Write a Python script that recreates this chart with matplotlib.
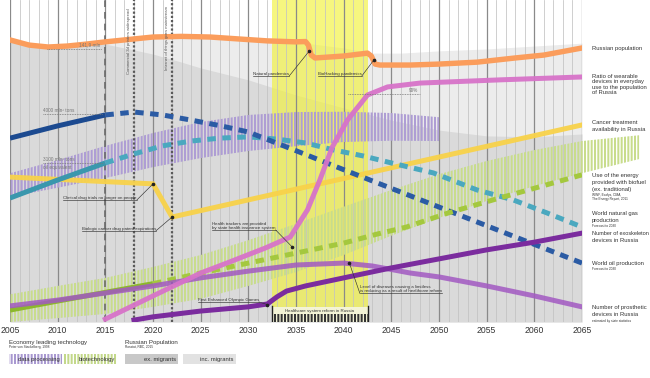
import matplotlib.pyplot as plt
from matplotlib.patches import Rectangle

plt.rcParams['font.family'] = ['Liberation Sans', 'DejaVu Sans']
plt.rcParams['hatch.linewidth'] = 1.45

# ---------- Data (index: 0 = bottom of chart, 100 = top) ----------

TICK_YEARS = list(range(2005, 2070, 5))

POP_YEARS = [2005, 2007, 2009, 2011, 2013, 2015, 2018, 2020, 2023, 2026, 2029, 2032, 2035,
             2036.0, 2036.3, 2036.6, 2037, 2040, 2042.5, 2042.9, 2043.3, 2043.8, 2047,
             2050, 2054, 2058, 2061, 2065]
POP_VALUES = [87.6, 86.0, 85.4, 85.7, 86.3, 87.0, 87.9, 88.5, 88.7, 88.5, 87.9, 87.3, 87.0,
              87.1, 86.0, 82.9, 82.0, 82.6, 83.5, 82.6, 80.1, 79.8, 79.8,
              80.1, 80.7, 82.0, 82.9, 85.1]

INC_YEARS = [2005, 2007, 2009, 2011, 2013, 2015, 2018, 2020, 2023, 2026, 2029, 2032, 2035,
             2040, 2043, 2046, 2050, 2055, 2060, 2065]
INC_VALUES = [87.6, 86.0, 85.4, 85.7, 86.3, 87.0, 87.9, 88.5, 88.7, 88.5, 87.9, 87.3, 87.0,
              85.1, 83.5, 83.5, 84.2, 84.8, 85.7, 86.6]

EX_YEARS = [2005, 2010, 2013, 2015, 2018, 2020, 2023, 2025, 2030, 2035, 2040, 2045, 2050,
            2055, 2060, 2065]
EX_VALUES = [87.3, 85.7, 86.0, 86.3, 84.5, 83.2, 80.7, 78.9, 75.2, 70.5, 66.5, 62.7, 59.6,
             57.8, 57.5, 58.4]

WEAR_YEARS = [2015, 2020, 2025, 2028, 2031.8, 2034.4, 2036.2, 2037.5, 2038.8, 2040.4,
              2042.5, 2044.6, 2048, 2056.4, 2065]
WEAR_VALUES = [0.9, 8.1, 15.2, 18.6, 23.0, 26.4, 34.8, 44.1, 54.3, 62.7,
               70.5, 73.0, 74.2, 75.2, 76.1]

OIL_YEARS = [2005, 2010, 2015, 2018, 2021, 2024, 2027, 2030, 2035, 2040, 2045, 2050, 2055,
             2060, 2065]
OIL_VALUES = [57.1, 60.9, 64.3, 65.2, 64.3, 62.7, 61.0, 59.0, 53.2, 47.3, 41.5, 35.7, 29.9,
              24.1, 18.3]

GAS_YEARS = [2005, 2010, 2015, 2018, 2021, 2024, 2027, 2030, 2033, 2036, 2039, 2042, 2045,
             2049.4, 2054, 2057.8, 2061.3, 2065]
GAS_VALUES = [38.5, 44.1, 49.4, 52.2, 54.7, 56.2, 57.1, 57.5, 56.8, 55.6, 53.4, 51.6, 49.4,
              46.3, 41.0, 37.9, 33.9, 29.5]

CANCER_YEARS = [2005, 2020, 2022, 2065]
CANCER_VALUES = [45.0, 42.9, 32.6, 61.2]

BIOFUEL_YEARS = [2005, 2010, 2015, 2020, 2025, 2030, 2035, 2040, 2043.5, 2046.6, 2051,
                 2056, 2065]
BIOFUEL_VALUES = [3.7, 6.5, 9.2, 11.9, 15.2, 18.3, 21.4, 24.5, 27.3, 29.5, 33.9,
                  38.2, 45.7]

EXO_YEARS = [2018, 2020, 2025, 2030, 2032, 2033, 2034, 2036, 2040, 2045, 2050, 2055, 2060, 2065]
EXO_VALUES = [0.6, 1.6, 3.4, 4.7, 5.6, 7.8, 9.6, 11.2, 13.7, 16.8, 19.6, 22.4, 24.8, 27.6]

PROS_YEARS = [2005, 2010, 2015, 2020, 2025, 2030, 2035, 2040, 2043, 2047, 2050, 2055, 2060, 2065]
PROS_VALUES = [5.0, 6.8, 9.0, 11.2, 13.7, 15.8, 17.7, 18.3, 17.4, 15.2, 14.0, 11.2, 8.1, 4.7]

# economy leading technology waves (centre, half width)
DATA_YEARS = [2005, 2010, 2015, 2020, 2025, 2030, 2035, 2040, 2045, 2050]
DATA_CENTER = [42.5, 46.0, 49.7, 53.4, 56.5, 58.7, 59.9, 60.6, 60.6, 59.9]
DATA_HALF = [3.7, 4.3, 5.0, 5.3, 5.6, 5.6, 5.3, 4.7, 4.3, 3.7]

BIO_YEARS = [2005, 2010, 2015, 2020, 2025, 2030, 2035, 2040, 2045, 2050, 2055, 2060, 2065, 2071]
BIO_CENTER = [4.3, 6.2, 8.1, 10.9, 14.0, 18.3, 23.0, 28.3, 33.9, 39.1, 43.8, 47.8, 51.2, 54.3]
BIO_HALF = [4.3, 5.0, 5.6, 6.2, 6.8, 7.1, 7.5, 7.5, 7.1, 6.8, 6.2, 5.6, 5.0, 3.7]

REFORM_START, REFORM_END = 2032.5, 2042.5

# ---------- Figure ----------

W, H = 650, 378
fig = plt.figure(figsize=(W / 100, H / 100), dpi=100)
ax = fig.add_axes([10 / W, 56 / H, 572 / W, 322 / H])
ax.set_xlim(2005, 2065)
ax.set_ylim(0, 100)
for s in ax.spines.values():
    s.set_visible(False)
ax.set_yticks([])
ax.set_xticks(TICK_YEARS)
ax.tick_params(axis='x', length=0, pad=3, labelsize=6.2, labelcolor='#333333')

# population areas
ax.fill_between(INC_YEARS, 0, INC_VALUES, color='#ececec', lw=0, zorder=0.3)
ax.fill_between(EX_YEARS, 0, EX_VALUES, color='#dadada', lw=0, zorder=0.4)

# healthcare reform period
ax.axvspan(REFORM_START, REFORM_END, color='#f2f23a', alpha=0.65, lw=0, zorder=0.6)

# year grid
for yr in range(2005, 2066):
    if yr % 5 == 0:
        ax.axvline(yr, color='#8a8a8a', lw=0.9, zorder=1)
    else:
        ax.axvline(yr, color='#c2c2c2', lw=0.55, zorder=1)

# technology waves
lo = [c - h for c, h in zip(DATA_CENTER, DATA_HALF)]
hi = [c + h for c, h in zip(DATA_CENTER, DATA_HALF)]
ax.fill_between(DATA_YEARS, lo, hi, facecolor='none', edgecolor='#ae9dd4',
                hatch='|||||', lw=0, zorder=2)
lo = [max(c - h, 0) for c, h in zip(BIO_CENTER, BIO_HALF)]
hi = [c + h for c, h in zip(BIO_CENTER, BIO_HALF)]
band = ax.fill_between(BIO_YEARS, lo, hi, facecolor='none', edgecolor='#c8dc8c',
                       hatch='|||||', lw=0, zorder=2)
band.set_clip_on(False)

# event lines
ax.axvline(2015, color='#6a6a6a', lw=1.2, dashes=(4, 3), zorder=2.5)
ax.axvline(2018, color='#5a5a5a', lw=1.6, ls=(0, (1, 0.9)), zorder=2.5)
ax.axvline(2022, color='#5a5a5a', lw=1.6, ls=(0, (1, 0.9)), zorder=2.5)
ax.text(2017.45, 97.5, "Commercial 3d printers widespread", rotation=90, ha='center',
        va='top', fontsize=3.1, color='#555555', zorder=5)
ax.text(2021.45, 98.2, "Internet of things goes mainstream", rotation=90, ha='center',
        va='top', fontsize=3.1, color='#555555', zorder=5)

LW = 3.6
DASH = (1.7, 1.3)


def split_line(years, values, cut, color, dash_color=None):
    sy = [y for y in years if y <= cut]
    sv = values[:len(sy)]
    dy = [y for y in years if y >= cut]
    dv = values[len(years) - len(dy):]
    ax.plot(sy, sv, color=color, lw=LW, solid_capstyle='butt', zorder=3)
    ax.plot(dy, dv, color=dash_color or color, lw=LW, dashes=DASH,
            dash_capstyle='butt', zorder=3)


ax.plot(CANCER_YEARS, CANCER_VALUES, color='#f8d24a', lw=LW, alpha=0.95, zorder=3,
        solid_joinstyle='miter')
split_line(GAS_YEARS, GAS_VALUES, 2015, '#3a97ad', '#4aa8bf')
split_line(OIL_YEARS, OIL_VALUES, 2015, '#1c4a90', '#2b5ba4')
split_line(BIOFUEL_YEARS, BIOFUEL_VALUES, 2020, '#8cb82c', '#a4c83e')
ax.plot(PROS_YEARS, PROS_VALUES, color='#a259c2', lw=LW, alpha=0.85, zorder=3.1)
ax.plot(EXO_YEARS, EXO_VALUES, color='#7b2c9e', lw=LW, zorder=3.2)
ax.plot(WEAR_YEARS, WEAR_VALUES, color='#d773c9', lw=LW, alpha=0.95, zorder=3.3)
ax.plot(POP_YEARS, POP_VALUES, color='#fb9d5c', lw=LW + 0.3, zorder=3.4)

# reference values
REF_NOTES = [
    ("141,9 mln", 2008.9, 2014.7, 84.8, 'right'),
    ("4000 mln\u00b3 tons", 2008.5, 2014.8, 64.6, 'left'),
    ("3100 mln\u00b3 tons", 2008.5, 2014.8, 49.3, 'left'),
    ("90%", 2040.5, 2048.0, 70.8, 'right'),
]
for txt, x0, x1, y, side in REF_NOTES:
    ax.plot([x0, x1], [y, y], color='#777777', lw=0.6, ls=(0, (1, 1)), zorder=4)
    ax.text(x1 - 0.2 if side == 'right' else x0, y + 0.4, txt, ha=side, va='bottom',
            fontsize=3.4, color='#777777', zorder=5)
ax.text(2008.5, 48.9, "oil equivalent", ha='left', va='top', fontsize=3.4,
        color='#777777', zorder=5)

# event notes: text, x start, y of underline, point, leader side
NOTES = [
    ("Natural pandemics", 2030.5, 76.4, (2036.4, 84.2), 'right'),
    ("BioHacking pandemics", 2037.3, 76.4, (2043.15, 81.3), 'right'),
    ("Clinical drug trials no longer on people", 2010.6, 37.9, (2020, 42.9), 'right'),
    ("Biologic cancer drug patent expirations", 2012.5, 28.3, (2022, 32.6), 'right'),
    ("Health trackers are provided\nby state health insurance system", 2026.2, 28.6,
     (2034.6, 23.3), 'right'),
    ("First Enhanced Olympic Games", 2024.7, 6.2, (2032.0, 5.4), 'right'),
    ("Level of diseases causing a limitless\nis reducing as a result of healthcare reform",
     2041.7, 8.9, (2040.6, 18.3), 'left'),
]
texts = []
for txt, x0, y, pt, side in NOTES:
    t = ax.text(x0, y, txt, ha='left', va='bottom', fontsize=3.2, color='#333333',
                linespacing=1.1, zorder=5)
    texts.append(t)

# reform bracket
ax.add_patch(Rectangle((REFORM_START, 0), REFORM_END - REFORM_START, 4.6,
                       facecolor='#f3f3d6', edgecolor='none', zorder=4))
ax.add_patch(Rectangle((REFORM_START, 0), REFORM_END - REFORM_START, 2.4,
                       facecolor='none', edgecolor='#333333', hatch='|||||', lw=0, zorder=4.1))
for xe in (REFORM_START, REFORM_END):
    ax.plot([xe, xe], [0, 5.0], color='#222222', lw=1.0, zorder=4.2)
ax.text((REFORM_START + REFORM_END) / 2, 3.5, "Healthcare system reform in Russia",
        ha='center', va='center', fontsize=3.2, color='#333333', zorder=5)

fig.canvas.draw()
renderer = fig.canvas.get_renderer()
inv = ax.transData.inverted()
for t, (txt, x0, y, pt, side) in zip(texts, NOTES):
    bb = t.get_window_extent(renderer)
    (bx0, by0), (bx1, _) = inv.transform([[bb.x0, bb.y0], [bb.x1, bb.y0]])
    ax.plot([bx0, bx1], [by0, by0], color='#333333', lw=0.45, zorder=5)
    sx = bx1 if side == 'right' else bx0
    ax.plot([sx, pt[0]], [by0, pt[1]], color='#333333', lw=0.45, zorder=5)
    ax.plot(pt[0], pt[1], 'o', ms=1.6, color='#222222', zorder=5.1)

# ---------- Right labels ----------


def fig_text(x, y, s, size, ha='left'):
    fig.text(x / W, 1 - y / H, s, fontsize=size, va='center', ha=ha, color='#333333')


RIGHT_LABELS = [
    (48.3, "Russian population", 4.2),
    (76.7, "Ratio of wearable", 4.2),
    (82.0, "devices in everyday", 4.2),
    (87.3, "use to the population", 4.2),
    (92.7, "of Russia", 4.2),
    (123.0, "Cancer treatment", 4.2),
    (130.0, "availability in Russia", 4.2),
    (175.7, "Use of the energy", 4.2),
    (182.7, "provided with biofuel", 4.2),
    (189.7, "(ex. traditional)", 4.2),
    (195.2, "WWF, Ecofys, OMA,", 2.3),
    (199.2, "The Energy Report, 2011", 2.3),
    (213.3, "World natural gas", 4.2),
    (220.3, "production", 4.2),
    (225.7, "Forecast to 2030", 2.3),
    (233.7, "Number of exoskeleton", 4.0),
    (240.3, "devices in Russia", 4.2),
    (263.7, "World oil production", 4.2),
    (269.0, "Forecast to 2030", 2.3),
    (307.7, "Number of prosthetic", 4.2),
    (314.3, "devices in Russia", 4.2),
    (320.7, "estimated by state statistics", 2.3),
]
for y, s, size in RIGHT_LABELS:
    fig_text(592, y, s, size)

# ---------- Legend ----------
fig_text(9, 342.7, "Economy leading technology", 4.4)
fig_text(9, 347.0, "Peter von Stackelberg, 1998", 2.3)
fig_text(125, 342.7, "Russian Population", 4.4)
fig_text(125, 347.0, "Rosstat, RBC, 2015", 2.3)

LEGEND_BOXES = [
    (9, "data processing", 'white', '#a898d0', '|||||'),
    (64, "biotechnology", 'white', '#c3d88a', '|||||'),
    (125, "ex. migrants", '#c8c8c8', '#c8c8c8', None),
    (183, "inc. migrants", '#e2e2e2', '#e2e2e2', None),
]
for x, label, fc, ec, hatch in LEGEND_BOXES:
    fig.add_artist(Rectangle((x / W, 1 - 364 / H), 53 / W, 10 / H, facecolor=fc,
                             edgecolor=ec, hatch=hatch, lw=0, transform=fig.transFigure))
    fig_text(x + 51, 359, label, 4.2, ha='right')

fig.savefig("out.png", dpi=100)
plt.close(fig)
